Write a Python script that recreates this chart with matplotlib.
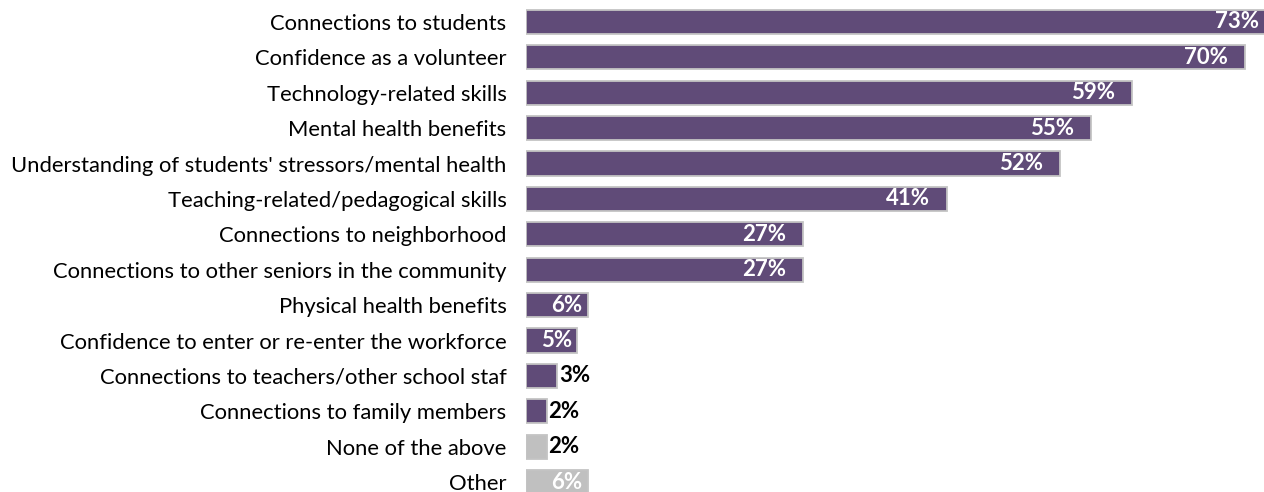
import matplotlib.pyplot as plt
from matplotlib.transforms import offset_copy

plt.rcParams['font.family'] = ['Lato', 'DejaVu Sans']

categories = [
    "Connections to students",
    "Confidence as a volunteer",
    "Technology-related skills",
    "Mental health benefits",
    "Understanding of students' stressors/mental health",
    "Teaching-related/pedagogical skills",
    "Connections to neighborhood",
    "Connections to other seniors in the community",
    "Physical health benefits",
    "Confidence to enter or re-enter the workforce",
    "Connections to teachers/other school staf",
    "Connections to family members",
    "None of the above",
    "Other",
]
values = [73, 70, 59, 55, 52, 41, 27, 27, 6, 5, 3, 2, 2, 6]
is_other = [False] * 12 + [True, True]

purple = '#604b78'
grey = '#c0c0c0'
edge = '#c4c4c4'

fig = plt.figure(figsize=(12.64, 4.92), dpi=100)
ax = fig.add_axes([526 / 1264, 0, 1 - 526 / 1264, 1])

ypos = list(range(len(categories)))
colors = [grey if o else purple for o in is_other]
ax.barh(ypos, values, height=0.68, color=colors, edgecolor=edge, linewidth=1.3)

ax.set_xlim(0, 71.86)
ax.set_ylim(13.28, -0.62)
ax.set_yticks(ypos)
ax.set_yticklabels(categories, fontsize=15.8)
ax.tick_params(axis='y', length=0, pad=14)
ax.set_xticks([])
for s in ax.spines.values():
    s.set_visible(False)

# value labels: white inside the bar end, black just outside for tiny bars
for y, v in zip(ypos, values):
    if v >= 5:
        gap = -17 if v >= 10 else -5
        tr = offset_copy(ax.transData, fig=fig, x=gap, y=0, units='dots')
        ax.text(v, y, f"{v}%", transform=tr, ha='right', va='center',
                color='white', fontsize=16, fontweight='bold', clip_on=False)
    else:
        tr = offset_copy(ax.transData, fig=fig, x=2, y=0, units='dots')
        ax.text(v, y, f"{v}%", transform=tr, ha='left', va='center',
                color='black', fontsize=16, fontweight='bold', clip_on=False)

fig.savefig('out.png', dpi=100)
